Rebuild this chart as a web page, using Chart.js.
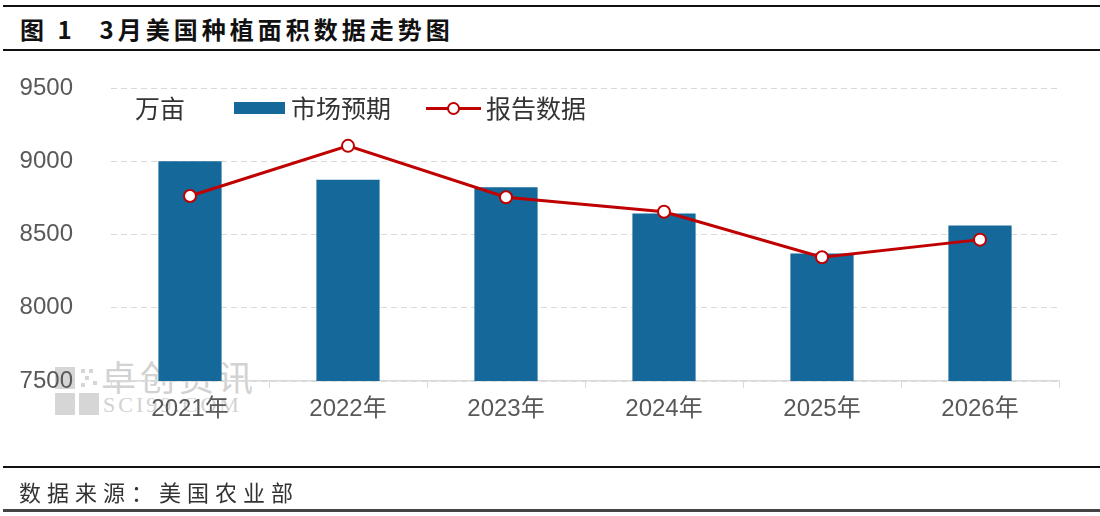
<!DOCTYPE html>
<html>
<head>
<meta charset="utf-8">
<script src="https://cdn.jsdelivr.net/npm/chart.js@4"></script>
<style>
  html, body { margin:0; padding:0; background:#fff; }
  #wrap { position:relative; width:1100px; height:516px; overflow:hidden; font-family:"Liberation Sans","Noto Sans CJK SC",sans-serif; }
  .hline { position:absolute; left:3px; right:0; background:#111; }
  #title { position:absolute; left:20px; top:13px; font-family:"Noto Sans CJK SC"; font-weight:bold; font-size:24px; line-height:32px; color:#111; letter-spacing:4px; white-space:nowrap; }
  #source { position:absolute; left:19px; top:476px; font-family:"Noto Sans CJK SC"; font-size:22px; line-height:30px; color:#333; letter-spacing:6px; white-space:nowrap; }
  #wm { position:absolute; left:55px; top:362px; color:#d4d4d4; }
  #wm .icon { position:absolute; left:0; top:5px; width:44px; height:48px; }
  #wm .icon div { position:absolute; background:#d6d6d6; }
  #wm .cn { position:absolute; left:46px; top:-6px; font-family:"Noto Sans CJK SC"; font-size:35px; line-height:40px; white-space:nowrap; letter-spacing:4px; color:#d2d2d2; }
  #wm .en { position:absolute; left:48px; top:31px; font-family:"Liberation Serif",serif; font-size:22px; line-height:24px; white-space:nowrap; letter-spacing:3px; color:#d2d2d2; }
  canvas { position:absolute; left:0; top:0; }
  #legend { position:absolute; left:0; top:0; width:1100px; height:0; font-family:"Noto Sans CJK SC"; font-size:25px; color:#333; }
  #legend .t { position:absolute; top:92px; line-height:30px; white-space:nowrap; }
</style>
</head>
<body>
<div id="wrap">
  <div class="hline" style="top:5px;height:2px;"></div>
  <div id="title">图 1<span style="margin-left:24px">3月美国种植面积数据走势图</span></div>
  <div class="hline" style="top:49px;height:2px;"></div>

  <div id="wm">
    <div class="icon">
      <div style="left:0;top:0;width:20px;height:22px;"></div>
      <div style="left:24px;top:26px;width:20px;height:22px;"></div>
      <div style="left:0;top:26px;width:20px;height:22px;"></div>
      <div style="left:26px;top:2px;width:4px;height:4px;"></div>
      <div style="left:34px;top:2px;width:4px;height:4px;"></div>
      <div style="left:30px;top:9px;width:4px;height:4px;"></div>
      <div style="left:26px;top:16px;width:4px;height:4px;"></div>
      <div style="left:38px;top:14px;width:4px;height:4px;"></div>
    </div>
    <div class="cn">卓创资讯</div>
    <div class="en">SCI99.COM</div>
  </div>

  <canvas id="c" width="1100" height="516"></canvas>
  <div id="legend"></div>

  <div class="hline" style="top:466px;height:2px;"></div>
  <div id="source">数据来源：美国农业部</div>
  <div class="hline" style="top:509px;height:3px;background:#444;"></div>
</div>
<script>
const unitLabel = '万亩';
const categories = ['2021年', '2022年', '2023年', '2024年', '2025年', '2026年'];
const expectedName = '市场预期';
const expectedValues = [9000, 8873, 8823, 8643, 8370, 8562];
const reportedName = '报告数据';
const reportedValues = [8763, 9105, 8754, 8655, 8345, 8465];
const yTicks = [7500, 8000, 8500, 9000, 9500];

const BLUE = '#14689A';
const RED = '#C00000';

// legend (HTML)
const lg = document.getElementById('legend');
lg.innerHTML =
  '<div class="t" style="left:135px">' + unitLabel + '</div>' +
  '<div style="position:absolute;left:234px;top:102px;width:51px;height:12px;background:' + BLUE + '"></div>' +
  '<div class="t" style="left:291px">' + expectedName + '</div>' +
  '<div style="position:absolute;left:426px;top:107px;width:55px;height:3px;background:' + RED + '"></div>' +
  '<div style="position:absolute;left:447px;top:102px;width:9px;height:9px;border:2px solid ' + RED + ';border-radius:50%;background:#fff"></div>' +
  '<div class="t" style="left:486px">' + reportedName + '</div>';

new Chart(document.getElementById('c'), {
  data: {
    labels: categories,
    datasets: [
      {
        type: 'line',
        label: reportedName,
        data: reportedValues,
        borderColor: RED,
        borderWidth: 3,
        pointRadius: 6,
        pointHoverRadius: 6,
        pointBackgroundColor: '#fff',
        pointBorderColor: RED,
        pointBorderWidth: 2,
        tension: 0,
        order: 0
      },
      {
        type: 'bar',
        label: expectedName,
        data: expectedValues,
        backgroundColor: BLUE,
        barPercentage: 0.4,
        categoryPercentage: 1.0,
        order: 1
      }
    ]
  },
  options: {
    responsive: false,
    animation: false,
    devicePixelRatio: 1,
    layout: { padding: { top: 88, right: 41, bottom: 0, left: 0 } },
    plugins: { legend: { display: false }, tooltip: { enabled: false } },
    scales: {
      x: {
        offset: true,
        afterFit: s => { s.height = 135; },
        grid: { drawOnChartArea: false, drawTicks: true, tickLength: 7, color: '#d9d9d9', offset: true },
        border: { display: true, color: '#d9d9d9', width: 1.5 },
        ticks: { color: '#595959', padding: 7, font: { family: '"Liberation Sans","Noto Sans CJK SC"', size: 24 } }
      },
      y: {
        min: 7500,
        max: 9500,
        afterFit: s => { s.width = 111; },
        afterBuildTicks: s => { s.ticks = yTicks.map(v => ({ value: v })); },
        grid: { drawTicks: false, color: '#d9d9d9', lineWidth: 1 },
        border: { display: false, dash: [6, 4] },
        ticks: {
          color: '#595959',
          padding: 38,
          font: { family: '"Liberation Sans"', size: 24 },
          callback: v => String(v)
        }
      }
    }
  }
});
</script>
</body>
</html>
